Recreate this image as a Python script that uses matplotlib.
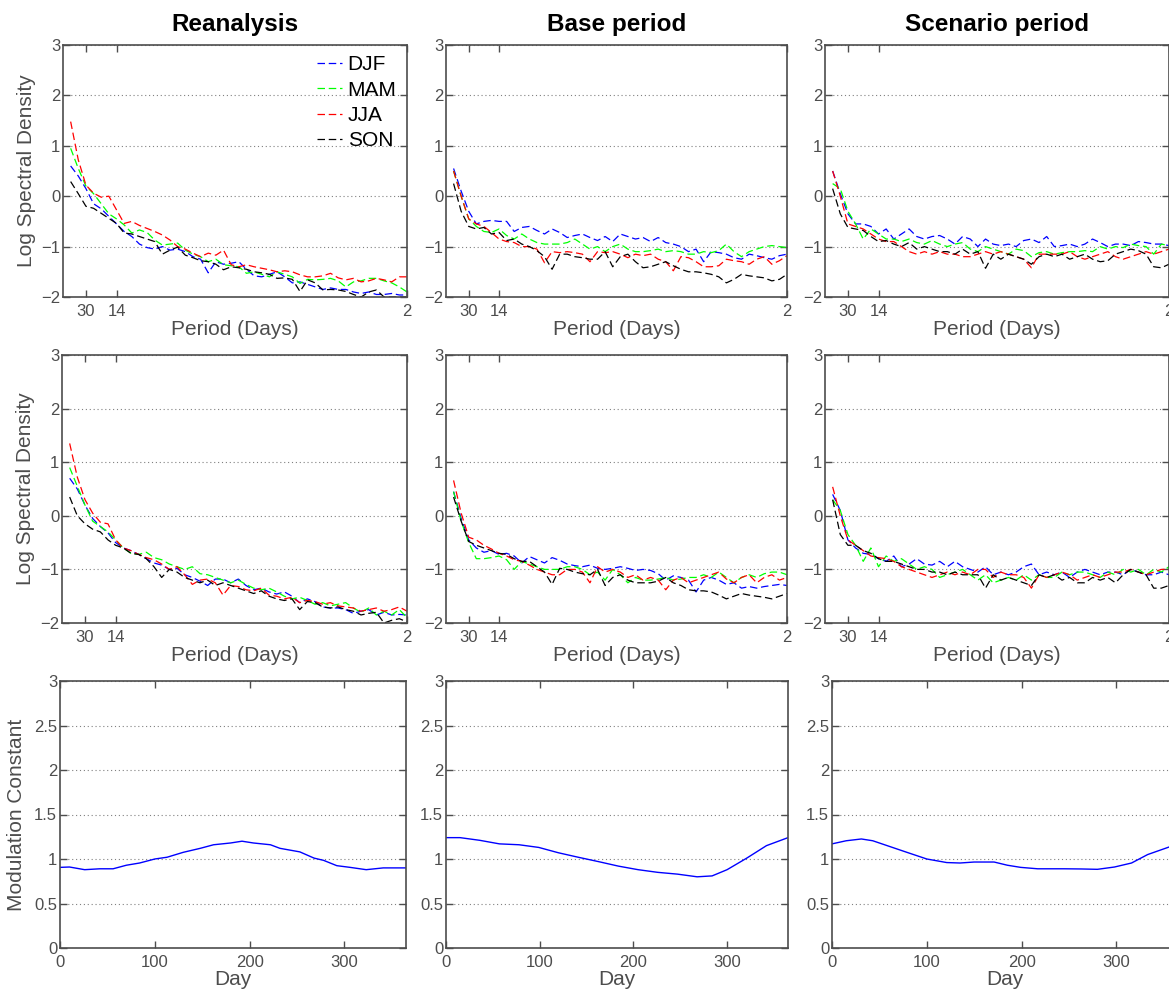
import numpy as np
import matplotlib
matplotlib.use("Agg")
import matplotlib.pyplot as plt

plt.rcParams["font.family"] = ["Liberation Sans", "DejaVu Sans"]

W, H = 1169, 989

# harmonics k = 1..45 of a 90 day season (cycles per day)
freq = np.arange(1, 46) / 90.0

# --- Reanalysis, row 1
rea1_djf = [0.6, 0.4, 0.15, -0.15, -0.25, -0.4, -0.55, -0.7, -0.8, -0.95,
            -1.02, -1.05, -1.0, -1.07, -1.05, -1.1, -1.2, -1.25, -1.52, -1.3,
            -1.35, -1.33, -1.3, -1.45, -1.58, -1.6, -1.55, -1.5, -1.6, -1.72,
            -1.7, -1.75, -1.8, -1.85, -1.82, -1.85, -1.85, -1.9, -1.93, -1.9,
            -1.95, -1.95, -1.93, -1.96, -1.96]
rea1_mam = [0.95, 0.55, 0.2, 0.05, -0.15, -0.35, -0.45, -0.57, -0.73, -0.67,
            -0.72, -0.87, -0.97, -0.95, -0.93, -1.07, -1.15, -1.2, -1.3, -1.25,
            -1.36, -1.38, -1.4, -1.53, -1.5, -1.55, -1.6, -1.5, -1.55, -1.6,
            -1.73, -1.65, -1.66, -1.65, -1.63, -1.68, -1.8, -1.7, -1.68, -1.63,
            -1.63, -1.68, -1.72, -1.8, -1.9]
rea1_jja = [1.48, 0.72, 0.22, 0.06, -0.02, 0.0, -0.27, -0.54, -0.5, -0.58,
            -0.64, -0.7, -0.77, -0.87, -1.0, -1.05, -1.13, -1.2, -1.13, -1.17,
            -1.07, -1.36, -1.4, -1.36, -1.4, -1.43, -1.46, -1.5, -1.48, -1.5,
            -1.56, -1.6, -1.6, -1.58, -1.53, -1.62, -1.66, -1.63, -1.7, -1.68,
            -1.63, -1.66, -1.7, -1.6, -1.6]
rea1_son = [0.29, 0.05, -0.2, -0.24, -0.34, -0.44, -0.54, -0.73, -0.75, -0.8,
            -0.85, -0.9, -1.15, -1.07, -1.01, -1.17, -1.22, -1.28, -1.3, -1.35,
            -1.46, -1.4, -1.42, -1.45, -1.5, -1.52, -1.55, -1.63, -1.62, -1.65,
            -1.89, -1.66, -1.72, -1.86, -1.85, -1.86, -1.89, -1.95, -2.0, -1.9,
            -1.86, -2.0, -2.0, -2.0, -2.0]

# --- Base period, row 1
base1_djf = [0.55, 0.1, -0.3, -0.55, -0.5, -0.48, -0.5, -0.5, -0.7, -0.62,
             -0.6, -0.68, -0.75, -0.65, -0.72, -0.82, -0.78, -0.75, -0.82, -0.88,
             -0.8, -0.9, -0.75, -0.8, -0.85, -0.82, -0.9, -0.82, -0.92, -0.95,
             -1.0, -1.1, -1.05, -1.3, -1.1, -1.12, -1.15, -1.22, -1.25, -1.15,
             -1.18, -1.22, -1.25, -1.18, -1.15]
base1_mam = [0.5, 0.0, -0.45, -0.6, -0.7, -0.72, -0.65, -0.78, -0.85, -0.75,
             -0.85, -0.92, -0.95, -0.95, -0.95, -0.92, -0.85, -0.95, -1.05, -1.0,
             -1.1, -1.0, -0.95, -1.05, -1.1, -1.1, -1.08, -1.05, -1.1, -1.08,
             -1.1, -1.15, -1.15, -1.1, -1.12, -1.08, -0.95, -1.1, -1.2, -1.1,
             -1.05, -1.0, -0.98, -1.0, -1.02]
base1_jja = [0.5, 0.0, -0.45, -0.55, -0.6, -0.72, -0.85, -0.9, -0.92, -1.0,
             -1.0, -1.05, -1.32, -1.1, -1.12, -1.1, -1.12, -1.15, -1.3, -1.1,
             -1.12, -1.1, -1.15, -1.22, -1.15, -1.18, -1.15, -1.25, -1.3, -1.48,
             -1.2, -1.22, -1.3, -1.4, -1.4, -1.38, -1.25, -1.28, -1.3, -1.35,
             -1.25, -1.2, -1.35, -1.28, -1.18]
base1_son = [0.25, -0.3, -0.6, -0.65, -0.62, -0.75, -0.72, -0.88, -0.85, -0.95,
             -1.0, -1.08, -1.2, -1.45, -1.15, -1.15, -1.2, -1.22, -1.25, -1.25,
             -1.1, -1.4, -1.2, -1.15, -1.3, -1.42, -1.4, -1.35, -1.3, -1.38,
             -1.45, -1.5, -1.5, -1.52, -1.55, -1.6, -1.72, -1.65, -1.55, -1.58,
             -1.6, -1.62, -1.68, -1.65, -1.55]

# --- Scenario period, row 1
scen1_djf = [0.5, 0.05, -0.35, -0.55, -0.55, -0.6, -0.75, -0.65, -0.85, -0.75,
             -0.65, -0.8, -0.85, -0.8, -0.78, -0.85, -0.95, -0.8, -0.85, -1.0,
             -0.85, -0.95, -0.98, -0.95, -1.0, -0.88, -0.85, -0.92, -0.8, -1.0,
             -0.98, -0.95, -1.0, -0.95, -0.85, -0.92, -1.0, -0.95, -0.95, -0.98,
             -0.9, -0.92, -0.95, -0.95, -0.98]
scen1_mam = [0.25, 0.15, -0.3, -0.55, -0.85, -0.65, -0.75, -0.85, -0.85, -0.9,
             -0.85, -0.92, -0.95, -0.88, -0.95, -1.0, -0.95, -0.92, -1.05, -1.1,
             -1.0, -1.05, -1.1, -1.15, -1.05, -1.08, -1.2, -1.12, -1.1, -1.15,
             -1.12, -1.1, -1.1, -1.08, -1.1, -1.0, -1.05, -1.0, -1.02, -0.95,
             -0.98, -1.0, -1.15, -0.95, -0.98]
scen1_jja = [0.5, 0.0, -0.55, -0.6, -0.65, -0.75, -0.85, -0.9, -0.9, -1.0,
             -1.1, -1.15, -1.1, -1.15, -1.1, -1.15, -1.15, -1.2, -1.2, -1.15,
             -1.1, -1.15, -1.1, -1.15, -1.2, -1.25, -1.42, -1.15, -1.15, -1.15,
             -1.15, -1.1, -1.2, -1.25, -1.2, -1.15, -1.1, -1.2, -1.25, -1.2,
             -1.15, -1.1, -1.15, -1.1, -1.05]
scen1_son = [0.15, -0.35, -0.62, -0.65, -0.68, -0.8, -0.9, -0.88, -0.95, -1.0,
             -0.92, -1.05, -1.0, -1.05, -1.1, -1.1, -1.15, -1.05, -1.15, -1.1,
             -1.43, -1.15, -1.25, -1.15, -1.2, -1.25, -1.35, -1.2, -1.15, -1.2,
             -1.15, -1.25, -1.2, -1.15, -1.25, -1.3, -1.28, -1.15, -1.1, -1.05,
             -1.08, -1.15, -1.4, -1.42, -1.35]

# --- Reanalysis, row 2
rea2_djf = [0.7, 0.5, 0.2, -0.05, -0.2, -0.32, -0.5, -0.6, -0.65, -0.72,
            -0.8, -0.88, -0.92, -1.0, -0.98, -1.1, -1.15, -1.22, -1.3, -1.18,
            -1.18, -1.25, -1.18, -1.3, -1.38, -1.35, -1.42, -1.46, -1.42, -1.5,
            -1.62, -1.55, -1.6, -1.7, -1.72, -1.72, -1.75, -1.82, -1.78, -1.75,
            -1.85, -1.8, -1.85, -1.84, -1.85]
rea2_mam = [0.9, 0.55, 0.2, -0.1, -0.2, -0.3, -0.45, -0.6, -0.7, -0.72,
            -0.68, -0.78, -0.82, -0.9, -0.95, -1.0, -0.95, -1.08, -1.1, -1.15,
            -1.2, -1.25, -1.2, -1.28, -1.35, -1.38, -1.35, -1.42, -1.5, -1.55,
            -1.52, -1.58, -1.65, -1.62, -1.68, -1.65, -1.62, -1.72, -1.8, -1.72,
            -1.85, -1.78, -1.85, -1.75, -1.9]
rea2_jja = [1.35, 0.72, 0.3, 0.05, -0.12, -0.15, -0.45, -0.6, -0.65, -0.72,
            -0.78, -0.82, -0.9, -1.0, -0.95, -1.1, -1.28, -1.2, -1.18, -1.25,
            -1.48, -1.3, -1.32, -1.38, -1.4, -1.35, -1.48, -1.5, -1.55, -1.52,
            -1.62, -1.58, -1.6, -1.65, -1.62, -1.68, -1.7, -1.72, -1.78, -1.75,
            -1.72, -1.78, -1.75, -1.7, -1.78]
rea2_son = [0.35, 0.0, -0.15, -0.25, -0.3, -0.45, -0.55, -0.6, -0.7, -0.72,
            -0.8, -0.95, -1.15, -1.0, -1.05, -1.15, -1.2, -1.25, -1.2, -1.3,
            -1.25, -1.3, -1.35, -1.4, -1.45, -1.4, -1.5, -1.55, -1.58, -1.55,
            -1.75, -1.6, -1.62, -1.7, -1.72, -1.7, -1.75, -1.78, -1.85, -1.82,
            -1.8, -2.0, -1.95, -1.92, -1.98]

# --- Base period, row 2
base2_djf = [0.45, -0.05, -0.45, -0.6, -0.68, -0.65, -0.72, -0.7, -0.75, -0.88,
             -0.76, -0.82, -0.88, -0.78, -0.83, -0.9, -0.93, -0.95, -0.92, -0.98,
             -1.0, -0.98, -0.95, -0.98, -1.02, -1.0, -1.02, -1.08, -1.2, -1.12,
             -1.15, -1.2, -1.42, -1.2, -1.15, -1.2, -1.28, -1.25, -1.35, -1.32,
             -1.35, -1.32, -1.3, -1.28, -1.3]
base2_mam = [0.45, -0.1, -0.5, -0.8, -0.8, -0.78, -0.75, -0.82, -1.0, -0.85,
             -0.9, -0.95, -1.0, -1.0, -1.0, -0.95, -0.95, -1.0, -1.1, -1.05,
             -1.2, -1.0, -1.1, -1.25, -1.15, -1.2, -1.2, -1.18, -1.15, -1.2,
             -1.18, -1.15, -1.15, -1.1, -1.15, -1.05, -1.15, -1.25, -1.15, -1.1,
             -1.15, -1.08, -1.05, -1.05, -1.1]
base2_jja = [0.66, 0.05, -0.4, -0.45, -0.55, -0.62, -0.7, -0.75, -0.82, -0.85,
             -0.92, -1.0, -1.05, -1.1, -1.1, -1.0, -1.0, -1.05, -1.25, -0.95,
             -1.05, -1.0, -1.05, -1.15, -1.1, -1.2, -1.15, -1.2, -1.38, -1.2,
             -1.15, -1.25, -1.2, -1.15, -1.1, -1.05, -1.18, -1.25, -1.15, -1.1,
             -1.25, -1.15, -1.1, -1.2, -1.15]
base2_son = [0.35, -0.1, -0.48, -0.55, -0.6, -0.65, -0.7, -0.72, -0.8, -0.85,
             -0.85, -0.95, -1.05, -1.28, -0.98, -1.0, -1.05, -1.08, -1.1, -1.0,
             -1.3, -1.15, -1.1, -1.2, -1.25, -1.25, -1.25, -1.22, -1.15, -1.25,
             -1.3, -1.38, -1.4, -1.4, -1.42, -1.48, -1.55, -1.5, -1.45, -1.48,
             -1.5, -1.52, -1.55, -1.5, -1.45]

# --- Scenario period, row 2
scen2_djf = [0.4, 0.1, -0.45, -0.6, -0.7, -0.72, -0.8, -0.85, -0.75, -0.95,
             -0.9, -0.8, -0.9, -0.92, -0.85, -0.95, -0.85, -0.95, -1.0, -1.05,
             -0.95, -1.1, -1.05, -1.1, -1.05, -0.95, -0.9, -1.1, -1.05, -1.1,
             -1.05, -1.15, -1.05, -1.0, -1.05, -1.1, -1.05, -1.05, -1.1, -1.0,
             -1.05, -1.1, -1.1, -1.05, -1.1]
scen2_mam = [0.3, 0.1, -0.35, -0.55, -0.85, -0.6, -0.95, -0.75, -0.85, -0.8,
             -0.9, -1.0, -0.95, -1.0, -1.15, -1.1, -1.05, -1.0, -1.1, -1.2,
             -1.1, -1.25, -1.2, -1.15, -1.2, -1.1, -1.2, -1.1, -1.15, -1.15,
             -1.05, -1.1, -1.05, -1.05, -1.1, -1.15, -1.05, -1.1, -1.0, -1.05,
             -1.0, -1.1, -1.0, -1.05, -0.95]
scen2_jja = [0.54, 0.0, -0.45, -0.55, -0.65, -0.75, -0.78, -0.8, -0.85, -0.95,
             -1.0, -1.05, -1.1, -1.15, -1.1, -1.05, -1.1, -1.05, -1.1, -1.0,
             -1.0, -1.15, -1.05, -1.1, -1.1, -1.15, -1.35, -1.1, -1.15, -1.1,
             -1.05, -1.1, -1.2, -1.15, -1.1, -1.15, -1.1, -1.05, -1.05, -1.0,
             -1.05, -1.1, -1.05, -1.0, -1.0]
scen2_son = [0.3, -0.35, -0.55, -0.55, -0.65, -0.7, -0.8, -0.85, -0.85, -0.9,
             -0.95, -1.0, -1.0, -1.05, -1.05, -1.1, -1.05, -1.1, -1.1, -1.1,
             -1.35, -1.1, -1.2, -1.15, -1.2, -1.25, -1.3, -1.1, -1.15, -1.1,
             -1.2, -1.15, -1.25, -1.25, -1.15, -1.2, -1.15, -1.25, -1.1, -1.0,
             -1.05, -1.1, -1.35, -1.35, -1.3]

# --- Modulation constant (row 3)
mod_rea_day = [0, 10, 26, 42, 56, 70, 84, 100, 113, 130, 148, 162, 180, 192,
               204, 222, 232, 253, 268, 278, 292, 306, 323, 341, 365]
mod_rea = [0.906, 0.91, 0.88, 0.89, 0.89, 0.93, 0.955, 1.0, 1.02, 1.075, 1.12,
           1.16, 1.18, 1.2, 1.18, 1.16, 1.12, 1.08, 1.01, 0.985, 0.925, 0.906,
           0.88, 0.9, 0.9]
mod_base_day = [0, 15, 36, 57, 78, 99, 120, 141, 163, 184, 205, 226, 247, 268,
                284, 300, 321, 342, 365]
mod_base = [1.24, 1.24, 1.21, 1.17, 1.16, 1.13, 1.07, 1.02, 0.97, 0.92, 0.88,
            0.85, 0.83, 0.8, 0.81, 0.88, 1.01, 1.15, 1.24]
mod_scen_day = [0, 15, 31, 43, 61, 79, 100, 121, 135, 150, 171, 185, 199, 217,
                245, 263, 280, 298, 316, 333, 357, 365]
mod_scen = [1.17, 1.205, 1.225, 1.205, 1.14, 1.075, 1.0, 0.96, 0.955, 0.966,
            0.966, 0.93, 0.906, 0.89, 0.89, 0.888, 0.884, 0.91, 0.955, 1.05,
            1.14, 1.17]

SEASONS = ["DJF", "MAM", "JJA", "SON"]
COLORS = ["#0000ff", "#00ff00", "#ff0000", "#000000"]
TITLES = ["Reanalysis", "Base period", "Scenario period"]
GREY = "0.3"


def box(left, top, right, bottom):
    # pixel box -> figure fraction
    return [left / W, 1 - bottom / H, (right - left) / W, (bottom - top) / H]


def style(ax):
    for s in ax.spines.values():
        s.set_color(GREY)
        s.set_linewidth(1.2)
    ax.tick_params(direction="in", length=5, width=1, colors=GREY,
                   labelsize=12, top=True, right=True)
    ax.tick_params(axis="x", pad=5)
    ax.tick_params(axis="y", pad=2)
    ax.yaxis.grid(True, linestyle=(0, (1, 2.5)), color="0.5", linewidth=0.8)
    ax.set_axisbelow(True)


def spectral(ax, series):
    for vals, c, name in zip(series, COLORS, SEASONS):
        ax.plot(freq, vals, color=c, lw=0.9, linestyle=(0, (6, 3)), label=name)
    ax.set_xlim(0, 0.5)
    ax.set_ylim(-2, 3)
    ax.set_xticks([3 / 90, 7 / 90, 45 / 90])
    ax.set_xticklabels(["30", "14", "2"])
    ax.set_yticks(range(-2, 4))
    ax.set_xlabel("Period (Days)", fontsize=15, color=GREY, labelpad=1)
    style(ax)


def modulation(ax, days, vals):
    ax.plot(days, vals, color="#0000ff", lw=1.0)
    ax.set_xlim(0, 365)
    ax.set_ylim(0, 3)
    ax.set_xticks([0, 100, 200, 300])
    ax.set_yticks([0, 0.5, 1, 1.5, 2, 2.5, 3])
    ax.set_yticklabels(["0", "0.5", "1", "1.5", "2", "2.5", "3"])
    ax.set_xlabel("Day", fontsize=15, color=GREY, labelpad=0)
    style(ax)


def main():
    fig = plt.figure(figsize=(W / 100, H / 100), dpi=100)

    row1 = [box(63, 45, 407, 297), box(446, 45, 787, 297), box(825, 45, 1169, 297)]
    row2 = [box(62, 355, 407, 623), box(446, 355, 787, 623), box(825, 355, 1169, 623)]
    row3 = [box(60, 681, 406, 948), box(446, 681, 788, 948), box(832, 681, 1178, 948)]

    data1 = [[rea1_djf, rea1_mam, rea1_jja, rea1_son],
             [base1_djf, base1_mam, base1_jja, base1_son],
             [scen1_djf, scen1_mam, scen1_jja, scen1_son]]
    data2 = [[rea2_djf, rea2_mam, rea2_jja, rea2_son],
             [base2_djf, base2_mam, base2_jja, base2_son],
             [scen2_djf, scen2_mam, scen2_jja, scen2_son]]
    mods = [(mod_rea_day, mod_rea), (mod_base_day, mod_base), (mod_scen_day, mod_scen)]

    for i in range(3):
        ax = fig.add_axes(row1[i])
        spectral(ax, data1[i])
        ax.set_title(TITLES[i], fontsize=17.5, fontweight="bold", pad=10)
        if i == 0:
            ax.set_ylabel("Log Spectral Density", fontsize=15, color=GREY, labelpad=4)
            ax.legend(loc="upper right", frameon=False, fontsize=15,
                      handlelength=1.2, handletextpad=0.25, labelspacing=0.3,
                      borderaxespad=0.2, borderpad=0.3)

        ax = fig.add_axes(row2[i])
        spectral(ax, data2[i])
        if i == 0:
            ax.set_ylabel("Log Spectral Density", fontsize=15, color=GREY, labelpad=4)

        ax = fig.add_axes(row3[i])
        modulation(ax, *mods[i])
        if i == 0:
            ax.set_ylabel("Modulation Constant", fontsize=15, color=GREY, labelpad=6)

    fig.savefig("out.png", dpi=100)


if __name__ == "__main__":
    main()
